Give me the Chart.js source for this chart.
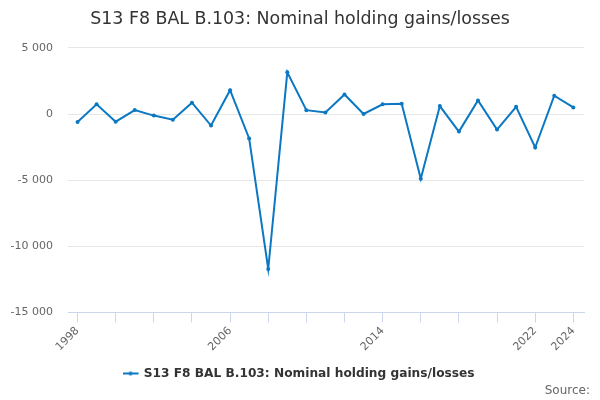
<!DOCTYPE html>
<html>
<head>
<meta charset="utf-8">
<script src="https://cdn.jsdelivr.net/npm/chart.js@4"></script>
<style>
  html, body { margin: 0; padding: 0; background: #fff; }
  #wrap { width: 600px; height: 400px; }
</style>
</head>
<body>
<div id="wrap"><canvas id="grafico"></canvas></div>
<script>
  const years = [
    1998, 1999, 2000, 2001, 2002, 2003, 2004, 2005, 2006, 2007, 2008, 2009, 2010,
    2011, 2012, 2013, 2014, 2015, 2016, 2017, 2018, 2019, 2020, 2021, 2022, 2023, 2024,
  ];
  const gains = [
    -600, 730, -580, 300, -120, -430, 860, -870, 1800, -1850, -11720, 3150, 290,
    110, 1480, 0, 730, 770, -4900, 600, -1330, 1030, -1180, 540, -2530, 1380, 500,
  ];
  const xTickLabels = [1998, 2006, 2014, 2022, 2024];
  const yTicks = [-15000, -10000, -5000, 0, 5000];

  const cor = "#0a78c2";

  // legend symbol: short line with a dot in the middle
  const simbolo = document.createElement("canvas");
  simbolo.width = 18;
  simbolo.height = 8;
  const sctx = simbolo.getContext("2d");
  sctx.strokeStyle = cor;
  sctx.lineWidth = 2;
  sctx.beginPath();
  sctx.moveTo(0, 4);
  sctx.lineTo(16, 4);
  sctx.stroke();
  sctx.fillStyle = cor;
  sctx.beginPath();
  sctx.arc(8, 4, 2, 0, Math.PI * 2);
  sctx.fill();

  function formatar(v) {
    const s = String(Math.abs(v)).replace(/\B(?=(\d{3})+(?!\d))/g, " ");
    return v < 0 ? "-" + s : s;
  }

  Chart.defaults.font.family = "'DejaVu Sans', sans-serif";
  Chart.defaults.animation = false;

  const ctx = document.getElementById("grafico");

  var grafico = new Chart(ctx, {
    type: "line",
    data: {
      datasets: [
        {
          label: "S13 F8 BAL B.103: Nominal holding gains/losses",
          data: years.map((y, i) => ({ x: y, y: gains[i] })),
          borderColor: cor,
          backgroundColor: cor,
          borderWidth: 2,
          pointRadius: 2,
          pointBorderWidth: 0,
          pointHoverRadius: 3,
          tension: 0,
        },
      ],
    },
    options: {
      responsive: true,
      maintainAspectRatio: false,
      layout: {
        padding: { left: 10, right: 10, top: 9, bottom: 0 },
      },
      plugins: {
        title: {
          display: true,
          text: "S13 F8 BAL B.103: Nominal holding gains/losses",
          color: "#333333",
          font: { size: 17.4, weight: "normal" },
          padding: { top: 0, bottom: 18 },
        },
        subtitle: {
          display: true,
          text: "Source:",
          position: "bottom",
          align: "end",
          color: "#666666",
          font: { size: 12, weight: "normal" },
          padding: { top: -6, bottom: 2 },
        },
        legend: {
          position: "bottom",
          labels: {
            color: "#333333",
            font: { size: 12.2, weight: "bold" },
            usePointStyle: true,
            pointStyle: simbolo,
            padding: 1,
          },
        },
        tooltip: { enabled: false },
      },
      scales: {
        x: {
          type: "linear",
          min: 1997.5,
          max: 2024.56,
          afterBuildTicks: (scale) => {
            const t = [];
            for (let y = years[0]; y <= years[years.length - 1]; y += 2) t.push({ value: y });
            scale.ticks = t;
          },
          afterFit: (scale) => {
            scale.height = 54;
          },
          ticks: {
            autoSkip: false,
            minRotation: 45,
            maxRotation: 45,
            color: "#666666",
            font: { size: 11 },
            padding: 2,
            callback: (v) => (xTickLabels.includes(v) ? String(v) : ""),
          },
          grid: {
            drawOnChartArea: false,
            drawTicks: true,
            tickLength: 10,
            tickColor: "#ccd6eb",
          },
          border: { color: "#ccd6eb", width: 1 },
        },
        y: {
          min: -15000,
          max: 5000,
          afterBuildTicks: (scale) => {
            scale.ticks = yTicks.map((v) => ({ value: v }));
          },
          afterFit: (scale) => {
            scale.width = 58;
          },
          ticks: {
            color: "#666666",
            font: { size: 11 },
            padding: 15,
            callback: (v) => formatar(v),
          },
          grid: {
            color: "#e6e6e6",
            drawTicks: false,
          },
          border: { display: false },
        },
        // empty right-hand axis, only keeps the plot clear of the right edge
        margem: {
          position: "right",
          display: true,
          afterFit: (scale) => {
            scale.width = 6;
          },
          ticks: { display: false },
          grid: { display: false },
          border: { display: false },
        },
      },
    },
  });
</script>
</body>
</html>
